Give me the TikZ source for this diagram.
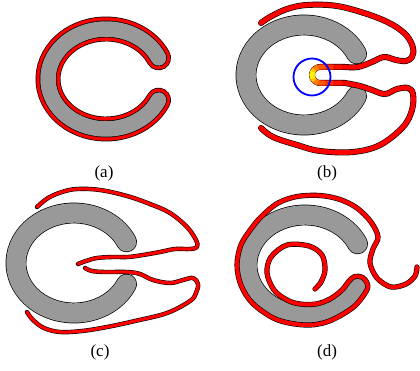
\documentclass[tikz,border=0pt]{standalone}
\usepackage{fontspec}
\setmainfont{Liberation Serif}
\definecolor{gris}{gray}{0.6}

\begin{document}
\begin{tikzpicture}[x=1pt,y=-1pt,
  cuerpo/.style={line width=0.7pt,double=gris,double distance=19.4pt,line cap=round},
  hilo/.style={line width=0.6pt,double=red,double distance=#1,line cap=round,line join=round},
  etiqueta/.style={font=\fontsize{17}{20}\selectfont,inner sep=0pt}]
  \useasboundingbox (0,0) rectangle (420,371);
  % (a) borde rojo sobre la herradura
  \draw[line width=0.7pt,double=red,double distance=23.5pt,line cap=round]
    ([shift={(106,79)}]25:58 and 50) arc[start angle=25,end angle=335,x radius=58,y radius=50];
  \draw[line width=0.7pt,double=gris,double distance=15.5pt,line cap=round]
    ([shift={(106,79)}]25:58 and 50) arc[start angle=25,end angle=335,x radius=58,y radius=50];
  \node[etiqueta] (la) at (104,173) {(a)};
  % (b) hilo con horquilla entre los brazos
  \draw[cuerpo] ([shift={(304,75)}]25:58 and 50) arc[start angle=25,end angle=335,x radius=58,y radius=50];
  \draw[hilo=4.8pt] plot[smooth,tension=0.6] coordinates {(261,23) (270,17) (287,9) (307,5) (337,6) (370,15)
      (393,25) (407,36) (413,48) (412,57) (406,61) (396,60) (384,57) (372,62) (358,67) (345,67)}
    -- (320,67) arc[start angle=270,end angle=90,radius=8] -- (345,83)
    -- plot[smooth,tension=0.6] coordinates {(345,83) (360,86) (372,90) (385,94) (397,89) (408,88) (413,94)
      (412,110) (403,127) (380,145) (353,152) (320,151) (297,145) (273,137) (261,128)};
  % punta caliente
  \draw[line width=4.8pt,red!85!orange] (342,67) -- (320,67) arc[start angle=270,end angle=90,radius=8] -- (342,83);
  \draw[line width=4.8pt,red!60!orange] (333,67) -- (320,67) arc[start angle=270,end angle=90,radius=8] -- (333,83);
  \draw[line width=4.8pt,orange!70!red] (325,67) -- (320,67) arc[start angle=270,end angle=90,radius=8] -- (325,83);
  \draw[line width=4.8pt,orange] ([shift={(320,75)}]255:8) arc[start angle=255,end angle=105,radius=8];
  \draw[line width=4.8pt,orange!45!yellow] ([shift={(320,75)}]225:8) arc[start angle=225,end angle=135,radius=8];
  \draw[line width=4.8pt,yellow] ([shift={(320,75)}]205:8) arc[start angle=205,end angle=155,radius=8];
  \draw[blue,line width=1.8pt] (312,77) circle[radius=18.5];
  \node[etiqueta] (lb) at (327,173) {(b)};
  % (c) horquilla abierta
  \draw[cuerpo] ([shift={(74,263)}]25:58 and 50) arc[start angle=25,end angle=335,x radius=58,y radius=50];
  \draw[hilo=3.2pt] plot[smooth,tension=0.6] coordinates {(37,207) (48,198) (62,192) (77,189) (100,190)
    (127,196) (150,204) (170,213) (187,227) (196,240) (197,247) (190,249) (175,249) (160,252) (143,255)
    (128,257) (113,257) (97,258) (86,261) (78,264)};
  \draw[hilo=3.2pt] plot[smooth,tension=0.6] coordinates {(85,268) (92,271) (105,272) (127,272) (140,274)
    (153,280) (170,283) (183,280) (193,278) (198,284) (196,293) (190,301) (167,313) (135,321) (107,327)
    (82,331) (60,332) (44,328) (33,320) (27,312)};
  \node[etiqueta] (lc) at (100,352) {(c)};
  % (d) hilo enrollado
  \draw[cuerpo] ([shift={(305,265)}]25:58 and 50) arc[start angle=25,end angle=335,x radius=58,y radius=50];
  \draw[hilo=4pt] plot[smooth,tension=0.55] coordinates {(417,267) (415,276) (406,284) (391,287) (377,278)
    (370,263) (373,249) (378,237) (371,222) (357,208) (340,199.5) (320,195.5) (297,196.5) (278,203)
    (263,215) (252.9,226.4) (241.1,244.5) (237,265) (241.1,285.5) (252.9,303.6) (276.3,319.4) (305,325)
    (328.3,321.4) (353.1,307.4) (366.4,290.9) (367.2,283.2) (362.4,277.3) (354.7,276.5) (348.8,281.3)
    (342,290) (330,299) (316,304) (300,304) (287,300) (274,290) (267,273) (271,257) (287,245) (309,246)
    (322,255) (325,270) (321,282) (315,289)};
  \node[etiqueta] (ld) at (327,352) {(d)};
\end{tikzpicture}
\end{document}
